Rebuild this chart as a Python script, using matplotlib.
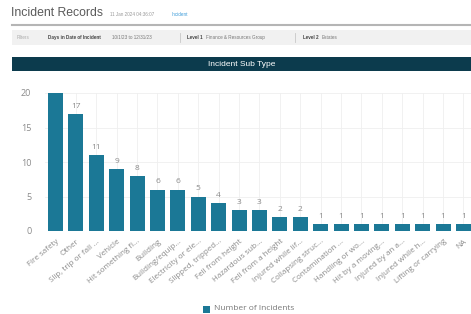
import matplotlib
matplotlib.use("Agg")
import matplotlib.pyplot as plt
from matplotlib.patches import Rectangle

categories = ["Fire safety", "Other", "Slip, trip or fall ...", "Vehicle",
              "Hit something fi...", "Building", "Building/equip...",
              "Electricity or ele...", "Slipped, tripped...", "Fell from height",
              "Hazardous sub...", "Fell from a height", "Injured while lif...",
              "Collapsing struc...", "Contamination ...", "Handling or wo...",
              "Hit by a moving...", "Injured by an a...", "Injured while h...",
              "Lifting or carrying", "NA"]
incidents = [20, 17, 11, 9, 8, 6, 6, 5, 4, 3, 3, 2, 2, 1, 1, 1, 1, 1, 1, 1, 1]
y_ticks = [0, 5, 10, 15, 20]

BAR = "#1b7896"
GREY = "#8a8a8a"
W, H = 471, 314
HDR = "Liberation Sans"
BODY = "Open Sans"

fig = plt.figure(figsize=(W / 100, H / 100), dpi=100)
fig.patch.set_facecolor("white")


def fx(px):
    return px / W


def fy(py):
    return 1 - py / H


# page header
fig.text(fx(11), fy(13), "Incident Records", fontsize=8.8, color="#5a5a5a",
         va="center", family=HDR)
fig.text(fx(110), fy(14), "11 Jan 2024 04:36:07", fontsize=3.3, color="#999999",
         va="center", family=HDR)
fig.text(fx(172), fy(14), "Incident", fontsize=3.3, color="#3a9ad9", va="center", family=HDR)
fig.add_artist(plt.Line2D([fx(12), 1], [fy(25), fy(25)], color="#b5b5b5", lw=1.5))
fig.add_artist(Rectangle((fx(12), fy(45)), 1 - fx(12), (45 - 30) / H,
                         facecolor="#f1f1f1", edgecolor="none"))
ytxt = fy(37.5)
filters = [(17, "Filters", "#aaaaaa", "normal"),
           (48, "Days in Date of Incident", "#444444", "bold"),
           (112, "10/1/23 to 12/31/23", "#777777", "normal"),
           (187, "Level 1", "#444444", "bold"),
           (206, "Finance & Resources Group", "#777777", "normal"),
           (303, "Level 2", "#444444", "bold"),
           (322, "Estates", "#777777", "normal")]
for px, txt, col, wt in filters:
    fig.text(fx(px), ytxt, txt, fontsize=3.3, color=col, weight=wt, va="center", family=HDR)
for px in (180, 295):
    fig.add_artist(plt.Line2D([fx(px), fx(px)], [fy(33), fy(42)], color="#c8c8c8", lw=0.6))

fig.add_artist(Rectangle((fx(12), fy(71)), 1 - fx(12), (71 - 57) / H,
                         facecolor="#0c3b4d", edgecolor="none"))
fig.text(fx(242), fy(64), "Incident Sub Type", fontsize=6, color="white",
         ha="center", va="center", family=HDR)

# chart
left, right = 45.3, 473.7
ax = fig.add_axes([fx(left), fy(231), (right - left) / W, (231 - 93) / H])
x = list(range(len(categories)))
ax.bar(x, incidents, width=0.74, color=BAR, zorder=3)
for xi, v in zip(x, incidents):
    ax.text(xi, v + 0.6, str(v), ha="center", va="bottom", fontsize=6,
            color=GREY, clip_on=True, family=BODY)
ax.set_xlim(-0.5, len(categories) - 0.5)
ax.set_ylim(0, 20)
ax.set_yticks(y_ticks)
ax.set_yticklabels([str(t) for t in y_ticks], family=BODY)
ax.set_xticks(x)
ax.set_xticklabels(categories, rotation=40, ha="right", rotation_mode="anchor",
                   fontsize=5.8, color=GREY, family=BODY)
ax.tick_params(axis="y", labelsize=6.5, colors=GREY, length=0, pad=10)
ax.tick_params(axis="x", length=0, pad=5)
ax.grid(True, color="#efefef", lw=0.6, zorder=0)
for s in ax.spines.values():
    s.set_visible(False)

# legend
fig.add_artist(Rectangle((fx(203), fy(313)), 7 / W, 7 / H, facecolor=BAR, edgecolor="none"))
fig.text(fx(214), fy(309), "Number of Incidents", fontsize=6, color="#777777",
         va="center", family=BODY)

fig.savefig("out.png", dpi=100)
